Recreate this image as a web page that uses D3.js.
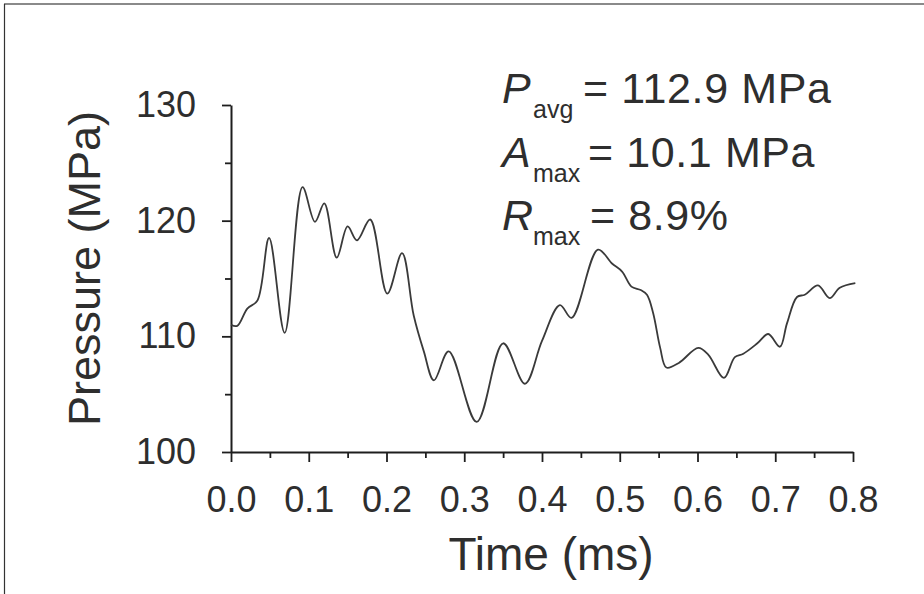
<!DOCTYPE html>
<html>
<head>
<meta charset="utf-8">
<script src="https://cdn.jsdelivr.net/npm/d3@7/dist/d3.min.js"></script>
<style>
  html, body { margin: 0; padding: 0; background: #ffffff; }
  svg { display: block; font-family: "Liberation Sans", Arial, sans-serif; }
</style>
</head>
<body>
<svg id="chart" width="924" height="594"></svg>
<script>
// Pressure trace over time (ms, MPa)
const timeMs = [
  0.000, 0.008, 0.021, 0.034, 0.049, 0.069, 0.092, 0.108, 0.120, 0.136,
  0.150, 0.162, 0.179, 0.201, 0.220, 0.235, 0.248, 0.261, 0.280, 0.316,
  0.350, 0.378, 0.400, 0.423, 0.438, 0.472, 0.490, 0.503, 0.515, 0.527,
  0.535, 0.543, 0.552, 0.560, 0.576, 0.601, 0.614, 0.634, 0.648, 0.659,
  0.677, 0.691, 0.706, 0.715, 0.728, 0.738, 0.755, 0.770, 0.783, 0.803
];
const pressureMPa = [
  111.0, 110.9, 112.4, 113.1, 118.5, 110.3, 122.9, 119.9, 121.5, 116.8,
  119.5, 118.3, 120.1, 113.7, 117.2, 111.8, 108.7, 106.2, 108.7, 102.6,
  109.4, 105.9, 109.6, 112.7, 111.6, 117.5, 116.3, 115.6, 114.3, 114.0,
  113.6, 112.0, 109.0, 107.3, 107.7, 109.0, 108.4, 106.4, 108.2, 108.5,
  109.4, 110.2, 109.1, 111.1, 113.4, 113.6, 114.4, 113.3, 114.2, 114.6
];

const xMajorTicks = [0.0, 0.1, 0.2, 0.3, 0.4, 0.5, 0.6, 0.7, 0.8];
const xMinorTicks = [0.05, 0.15, 0.25, 0.35, 0.45, 0.55, 0.65, 0.75];
const yMajorTicks = [100, 110, 120, 130];
const yMinorTicks = [105, 115, 125];

const statSymbols = ["P", "A", "R"];
const statSubscripts = ["avg", "max", "max"];
const statValues = ["= 112.9 MPa", "= 10.1 MPa", "= 8.9%"];

const xLabel = "Time (ms)";
const yLabel = "Pressure (MPa)";

const svg = d3.select("#chart");

// outer frame lines
svg.append("line").attr("x1", 4).attr("x2", 924).attr("y1", 4).attr("y2", 4)
  .attr("stroke", "#8a8a8a").attr("stroke-width", 2);
svg.append("line").attr("x1", 4.5).attr("x2", 4.5).attr("y1", 4).attr("y2", 594)
  .attr("stroke", "#333").attr("stroke-width", 1.2);

const plot = { left: 231, right: 853, top: 105, bottom: 452 };

const x = d3.scaleLinear().domain([0, 0.8]).range([plot.left, plot.right]);
const y = d3.scaleLinear().domain([100, 130]).range([plot.bottom, plot.top]);

const axisColor = "#1e1e1e";
const textColor = "#2e2e2e";

// x axis: minor ticks, then major ticks with labels
const gxMinor = svg.append("g").attr("transform", `translate(0,${plot.bottom})`)
  .call(d3.axisBottom(x).tickValues(xMinorTicks).tickSize(6).tickFormat(""));
const gx = svg.append("g").attr("transform", `translate(0,${plot.bottom})`)
  .call(d3.axisBottom(x).tickValues(xMajorTicks).tickSize(10).tickSizeOuter(0)
    .tickPadding(24).tickFormat(d3.format(".1f")));

// y axis
const gyMinor = svg.append("g").attr("transform", `translate(${plot.left},0)`)
  .call(d3.axisLeft(y).tickValues(yMinorTicks).tickSize(6).tickFormat(""));
const gy = svg.append("g").attr("transform", `translate(${plot.left},0)`)
  .call(d3.axisLeft(y).tickValues(yMajorTicks).tickSize(9).tickSizeOuter(0)
    .tickPadding(26).tickFormat(d3.format("d")));

[gxMinor, gx, gyMinor, gy].forEach(g => {
  g.select(".domain").attr("stroke", axisColor).attr("stroke-width", 2);
  g.selectAll(".tick line").attr("stroke", axisColor).attr("stroke-width", 1.8);
});
gxMinor.select(".domain").remove();
gyMinor.select(".domain").remove();

gx.selectAll(".tick text").attr("font-size", 36).attr("fill", textColor)
  .attr("font-family", "Liberation Sans, Arial, sans-serif");
gy.selectAll(".tick text").attr("font-size", 36).attr("fill", textColor)
  .attr("font-family", "Liberation Sans, Arial, sans-serif");

// axis titles
svg.append("text").attr("x", 551).attr("y", 570).attr("text-anchor", "middle")
  .attr("font-size", 46).attr("fill", textColor).text(xLabel);
svg.append("text")
  .attr("transform", `translate(100,${(plot.top + plot.bottom) / 2 - 10}) rotate(-90)`)
  .attr("text-anchor", "middle").attr("font-size", 45).attr("fill", textColor)
  .text(yLabel);

// pressure curve
const line = d3.line()
  .x((d, i) => x(timeMs[i]))
  .y(d => y(d))
  .curve(d3.curveCatmullRom.alpha(0.5));

svg.append("path")
  .datum(pressureMPa)
  .attr("fill", "none")
  .attr("stroke", "#3a3a3a")
  .attr("stroke-width", 1.8)
  .attr("stroke-linejoin", "round")
  .attr("d", line);

// statistics block
const statBaselines = [103, 167, 230];
const valueX = [583, 588, 590];
statSymbols.forEach((s, i) => {
  const g = svg.append("g").attr("fill", textColor);
  g.append("text").attr("x", 502).attr("y", statBaselines[i])
    .attr("font-size", 43).attr("font-style", "italic").text(s);
  g.append("text").attr("x", 533).attr("y", statBaselines[i] + 15)
    .attr("font-size", 25).text(statSubscripts[i]);
  g.append("text").attr("x", valueX[i]).attr("y", statBaselines[i])
    .attr("font-size", 43).attr("letter-spacing", 0.6).text(statValues[i]);
});
</script>
</body>
</html>
